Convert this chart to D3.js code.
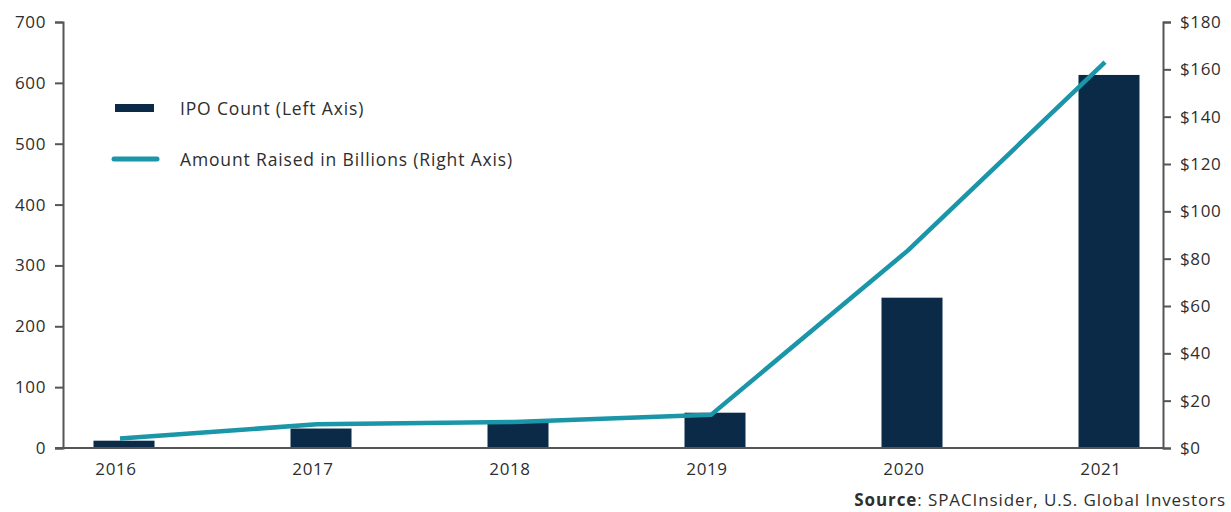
<!DOCTYPE html>
<html>
<head>
<meta charset="utf-8">
<script src="https://cdn.jsdelivr.net/npm/d3@7"></script>
<style>
  html, body { margin: 0; padding: 0; background: #fff; }
  svg { display: block; font-family: "Open Sans", "Lato", sans-serif; }
</style>
</head>
<body>
<svg id="chart" width="1231" height="512"></svg>
<script>
// SPAC IPOs per year and dollars raised
const years = ["2016", "2017", "2018", "2019", "2020", "2021"];
const ipoCount = [12, 32, 43, 58, 247, 613];
const amountRaised = [4, 10, 11, 14, 83.5, 163];
const leftTicks = [0, 100, 200, 300, 400, 500, 600, 700];
const rightTicks = [0, 20, 40, 60, 80, 100, 120, 140, 160, 180];

const W = 1231, H = 512;
const m = { left: 63, right: 68, top: 22, bottom: 64 };
const x0 = m.left, x1 = W - m.right, y0 = H - m.bottom, y1 = m.top;

const navy = "#0b2a48", teal = "#1a96a8", axisCol = "#555", textCol = "#2e2e2e";

const svg = d3.select("#chart");

const x = d3.scalePoint().domain(years).range([124, 1109]);
const yL = d3.scaleLinear().domain([0, 700]).range([y0, y1]);
const yR = d3.scaleLinear().domain([0, 180]).range([y0, y1]);
const barW = 61;

// bars
svg.append("g").selectAll("rect").data(years).join("rect")
  .attr("x", d => x(d) - barW / 2)
  .attr("width", barW)
  .attr("y", (d, i) => yL(ipoCount[i]))
  .attr("height", (d, i) => yL(0) - yL(ipoCount[i]))
  .attr("fill", navy);

// line
const line = d3.line()
  .x((d, i) => x(years[i]) - 4)
  .y(d => yR(d));
svg.append("path").datum(amountRaised)
  .attr("d", line)
  .attr("fill", "none")
  .attr("stroke", teal)
  .attr("stroke-width", 4.5)
  .attr("stroke-linejoin", "round");

// axes
function styleAxis(g) {
  g.selectAll("path, line").attr("stroke", axisCol).attr("stroke-width", 2);
  g.selectAll("text").attr("fill", textCol).style("font-size", "17px")
    .style("letter-spacing", "0.6px")
    .style("font-family", "'Open Sans', sans-serif");
}
svg.append("g").attr("transform", `translate(${x0},0)`)
  .call(d3.axisLeft(yL).tickValues(leftTicks).tickSize(8).tickSizeOuter(8).tickPadding(9))
  .call(styleAxis);
svg.append("g").attr("transform", `translate(${x1},0)`)
  .call(d3.axisRight(yR).tickValues(rightTicks).tickFormat(d => "$" + d)
    .tickSize(8).tickSizeOuter(8).tickPadding(9))
  .call(styleAxis);

// baseline
svg.append("line").attr("x1", x0 - 8).attr("x2", x1)
  .attr("y1", y0).attr("y2", y0)
  .attr("stroke", axisCol).attr("stroke-width", 2);

// year labels
svg.append("g").selectAll("text").data(years).join("text")
  .attr("x", d => x(d) - 8)
  .attr("y", y0 + 27)
  .attr("text-anchor", "middle")
  .attr("fill", textCol)
  .style("font-size", "17px")
  .style("letter-spacing", "0.6px")
  .text(d => d);

// legend
const lg = svg.append("g");
lg.append("rect").attr("x", 115).attr("y", 104).attr("width", 39).attr("height", 8).attr("fill", navy);
lg.append("text").attr("x", 180).attr("y", 115).attr("fill", textCol)
  .style("font-size", "17.5px").style("letter-spacing", "0.85px").text("IPO Count (Left Axis)");
lg.append("line").attr("x1", 114).attr("x2", 157).attr("y1", 159).attr("y2", 159)
  .attr("stroke", teal).attr("stroke-width", 5).attr("stroke-linecap", "round");
lg.append("text").attr("x", 180).attr("y", 166).attr("fill", textCol)
  .style("font-size", "17.5px").style("letter-spacing", "0.85px")
  .text("Amount Raised in Billions (Right Axis)");

// source
const src = svg.append("text").attr("x", 1226).attr("y", 506)
  .attr("text-anchor", "end").attr("fill", textCol)
  .style("font-size", "17px").style("letter-spacing", "0.9px");
src.append("tspan").style("font-weight", "bold").text("Source");
src.append("tspan").text(": SPACInsider, U.S. Global Investors");
</script>
</body>
</html>
